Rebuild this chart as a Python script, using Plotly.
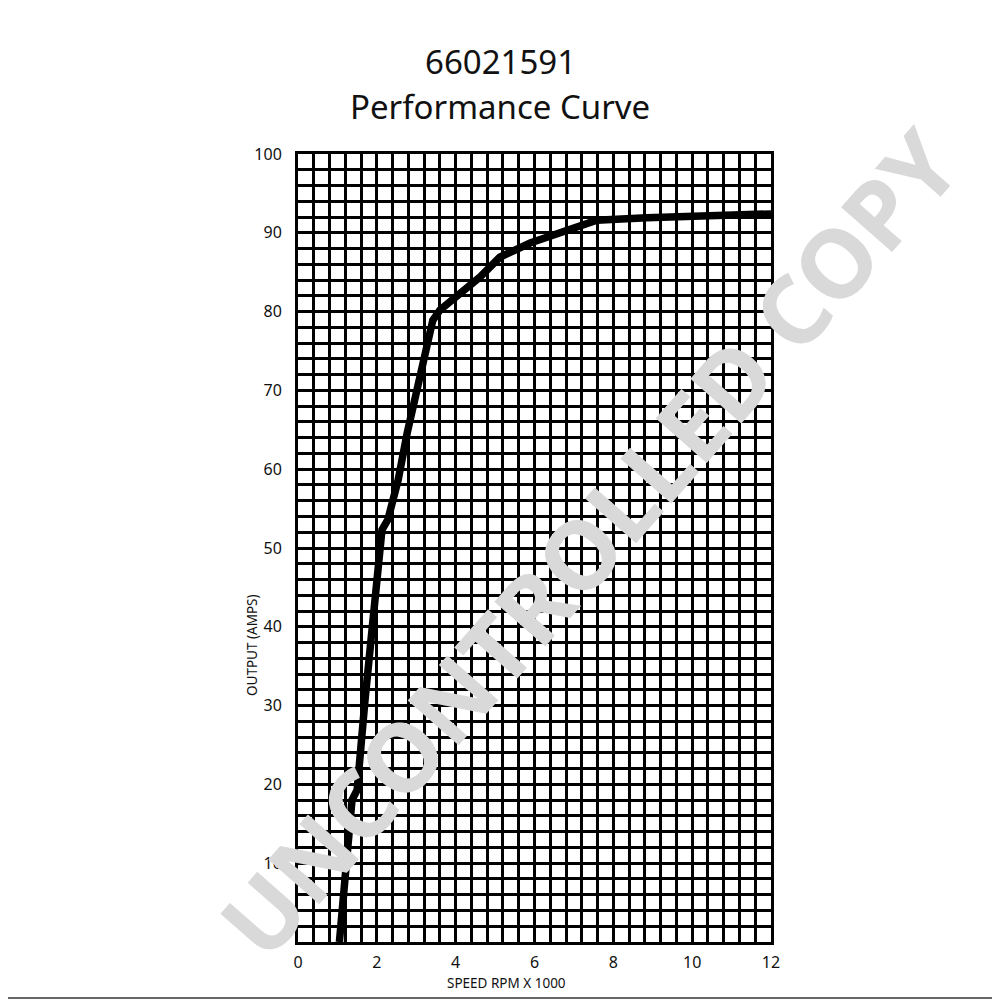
import plotly.graph_objects as go

# Curve data (speed in RPM x 1000, output in amps)
speed = [1.05, 1.19, 1.37, 1.50, 1.70, 2.13, 2.28, 2.54, 2.77, 3.42, 3.60,
         4.62, 5.12, 5.89, 6.65, 7.41, 7.58, 8.85, 10.53, 12.0]
amps = [0.0, 8.8, 18.0, 19.3, 30.7, 52.3, 53.6, 58.6, 64.6, 78.9, 80.2,
        84.4, 86.9, 88.7, 90.0, 91.2, 91.6, 91.9, 92.1, 92.4]

x_ticks = [0, 2, 4, 6, 8, 10, 12]
y_ticks = [0, 10, 20, 30, 40, 50, 60, 70, 80, 90, 100]

title_lines = ["66021591", "Performance Curve"]
watermark = "UNCONTROLLED COPY"
x_title = "SPEED RPM X 1000"
y_title = "OUTPUT (AMPS)"

FONT = "Noto Sans"
OFF = 8  # page body margin offset

# plot area in screen pixels
PL, PR, PT, PB = 298, 771, 154, 942
PW, PH = PR - PL, PB - PT


def px(x):
    return (x - PL) / PW


def py(y):
    return (PB - y) / PH


fig = go.Figure()
fig.add_trace(go.Scatter(
    x=speed, y=amps, mode="lines",
    line=dict(color="black", width=7.5),
    hoverinfo="skip", showlegend=False,
))

fig.update_layout(
    width=1000, height=1000,
    margin=dict(l=PL - OFF, r=1000 - (PR - OFF), t=PT - OFF, b=1000 - (PB - OFF)),
    paper_bgcolor="white", plot_bgcolor="white",
    font=dict(family=FONT, color="#111111"),
    showlegend=False,
)

fig.update_xaxes(
    range=[0, 12], tickvals=x_ticks, ticktext=[str(v) for v in x_ticks],
    showgrid=True, gridcolor="black", gridwidth=3,
    minor=dict(dtick=0.4, showgrid=True, gridcolor="black", gridwidth=3),
    zeroline=False, showline=True, linecolor="black", linewidth=3, mirror=True,
    ticks="", tickfont=dict(size=16, family=FONT), ticklabelstandoff=4,
    fixedrange=True,
)
fig.update_yaxes(
    range=[0, 100], tickvals=y_ticks,
    ticktext=["" if v == 0 else str(v) for v in y_ticks],
    showgrid=True, gridcolor="black", gridwidth=3,
    minor=dict(dtick=2, showgrid=True, gridcolor="black", gridwidth=3),
    zeroline=False, showline=True, linecolor="black", linewidth=3, mirror=True,
    ticks="", tickfont=dict(size=16, family=FONT), ticklabelstandoff=10,
    fixedrange=True,
)

anns = []
for text, ypos in zip(title_lines, [62, 106]):
    anns.append(dict(
        text=text, xref="paper", yref="paper",
        x=px(500), y=py(ypos),
        xanchor="center", yanchor="middle", showarrow=False,
        font=dict(size=33, family=FONT, color="#111111"),
    ))
anns.append(dict(
    text=x_title, xref="paper", yref="paper",
    x=px(506), y=py(983),
    xanchor="center", yanchor="middle", showarrow=False,
    font=dict(size=13.5, family=FONT, color="#111111"),
))
anns.append(dict(
    text=y_title, xref="paper", yref="paper",
    x=px(252), y=py(645),
    xanchor="center", yanchor="middle", showarrow=False, textangle=-90,
    font=dict(size=13.5, family=FONT, color="#111111"),
))
anns.append(dict(
    text="<b>" + watermark + "</b>", xref="paper", yref="paper",
    x=px(588), y=py(542),
    xanchor="center", yanchor="middle", showarrow=False, textangle=-48.7,
    font=dict(size=95, family=FONT, color="#d9d9d9"),
))
fig.update_layout(annotations=anns)

# Outer frame lines (right and bottom edges of the image)
fig.add_shape(type="line", xref="paper", yref="paper",
              x0=px(997), x1=px(997), y0=py(998), y1=py(OFF),
              line=dict(color="#333333", width=1.5), layer="below")
fig.add_shape(type="line", xref="paper", yref="paper",
              x0=px(OFF), x1=px(997), y0=py(998), y1=py(998),
              line=dict(color="#333333", width=1.5), layer="below")

fig.write_html("out.html")
